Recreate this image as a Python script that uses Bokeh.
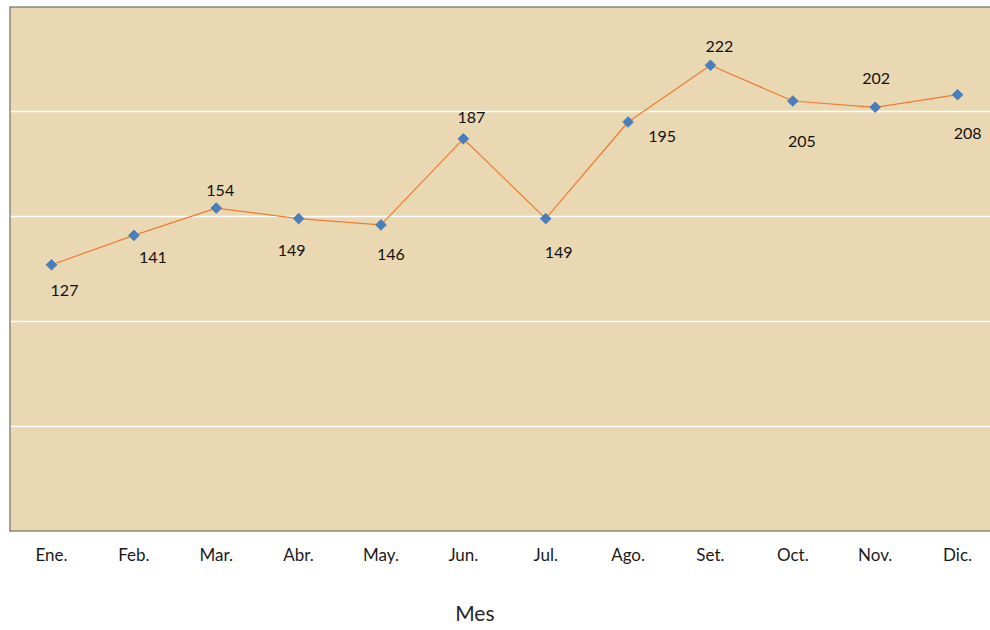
from bokeh.plotting import figure
from bokeh.models import Range1d, FixedTicker, ColumnDataSource, Span, LinearAxis
from bokeh.embed import file_html
from bokeh.resources import INLINE
from bokeh.core.properties import value
import math

months = ["Ene.", "Feb.", "Mar.", "Abr.", "May.", "Jun.", "Jul.", "Ago.", "Set.", "Oct.", "Nov.", "Dic."]
values = [127, 141, 154, 149, 146, 187, 149, 195, 222, 205, 202, 208]
grid_ticks = [50, 100, 150, 200]
y_min, y_max = 0, 250
x_title = "Mes"

# label placement (pixel offsets from each point)
label_dx = [13, 19, 4, -7, 10, 8, 13, 34, 9, 9, 1, 10]
label_dy = [26, 22, -18, 32, 30, -21, 34, 14, -19, 40, -29, 39]

xs = list(range(len(months)))
src = ColumnDataSource(dict(x=xs, y=values, lab=[str(v) for v in values],
                            dx=label_dx, dy=label_dy))

x_lo, x_hi = -0.51, 11.40
p = figure(width=990, height=630, output_backend="svg", toolbar_location=None,
           x_range=Range1d(x_lo, x_hi), y_range=Range1d(y_min, y_max),
           min_border_left=9, min_border_right=0, min_border_top=6, min_border_bottom=99)

p.background_fill_color = "#EAD8B3"
p.border_fill_color = "white"
p.outline_line_color = None

p.yaxis.visible = False
p.xgrid.visible = False
p.ygrid.ticker = FixedTicker(ticks=grid_ticks)
p.ygrid.grid_line_color = "white"
p.ygrid.grid_line_width = 1.5

# plot-area border (left, top, bottom only)
border = "#5f5f5f"
p.add_layout(Span(location=x_lo, dimension="height", line_color=border, line_width=2))
p.add_layout(Span(location=y_min, dimension="width", line_color=border, line_width=2))
p.add_layout(Span(location=y_max, dimension="width", line_color=border, line_width=2))

def plain(ax):
    ax.axis_line_color = None
    ax.major_tick_line_color = None
    ax.minor_tick_line_color = None
    ax.major_tick_out = 0
    ax.major_tick_in = 0
    ax.minor_tick_out = 0
    ax.minor_tick_in = 0
    ax.major_label_text_font = "Lato"

xa = p.xaxis[0]
plain(xa)
xa.ticker = FixedTicker(ticks=xs, minor_ticks=[])
xa.major_label_overrides = {i: m for i, m in enumerate(months)}
xa.major_label_standoff = 12
xa.major_label_text_font_size = "17px"
xa.major_label_text_color = "#1a1a1a"

# axis title drawn as a second, single-label axis below the month labels
title_pos = 5.14
ta = LinearAxis(ticker=FixedTicker(ticks=[title_pos], minor_ticks=[]))
plain(ta)
ta.major_label_overrides = {title_pos: x_title}
ta.major_label_standoff = 32
ta.major_label_text_font_size = "21px"
ta.major_label_text_color = "#262626"
p.add_layout(ta, "below")

p.line("x", "y", source=src, line_color="#ED7D31", line_width=1.2)
p.scatter("x", "y", source=src, marker="square", angle=math.pi / 4, size=7.5,
          fill_color="#4A7EBB", line_color="#4A7EBB")
p.text("x", "y", text="lab", source=src, x_offset="dx", y_offset="dy",
       text_align="center", text_baseline="middle", text_font=value("Lato"),
       text_font_size="16px", text_color="#111111")

open("out.html", "w").write(file_html(p, INLINE))
